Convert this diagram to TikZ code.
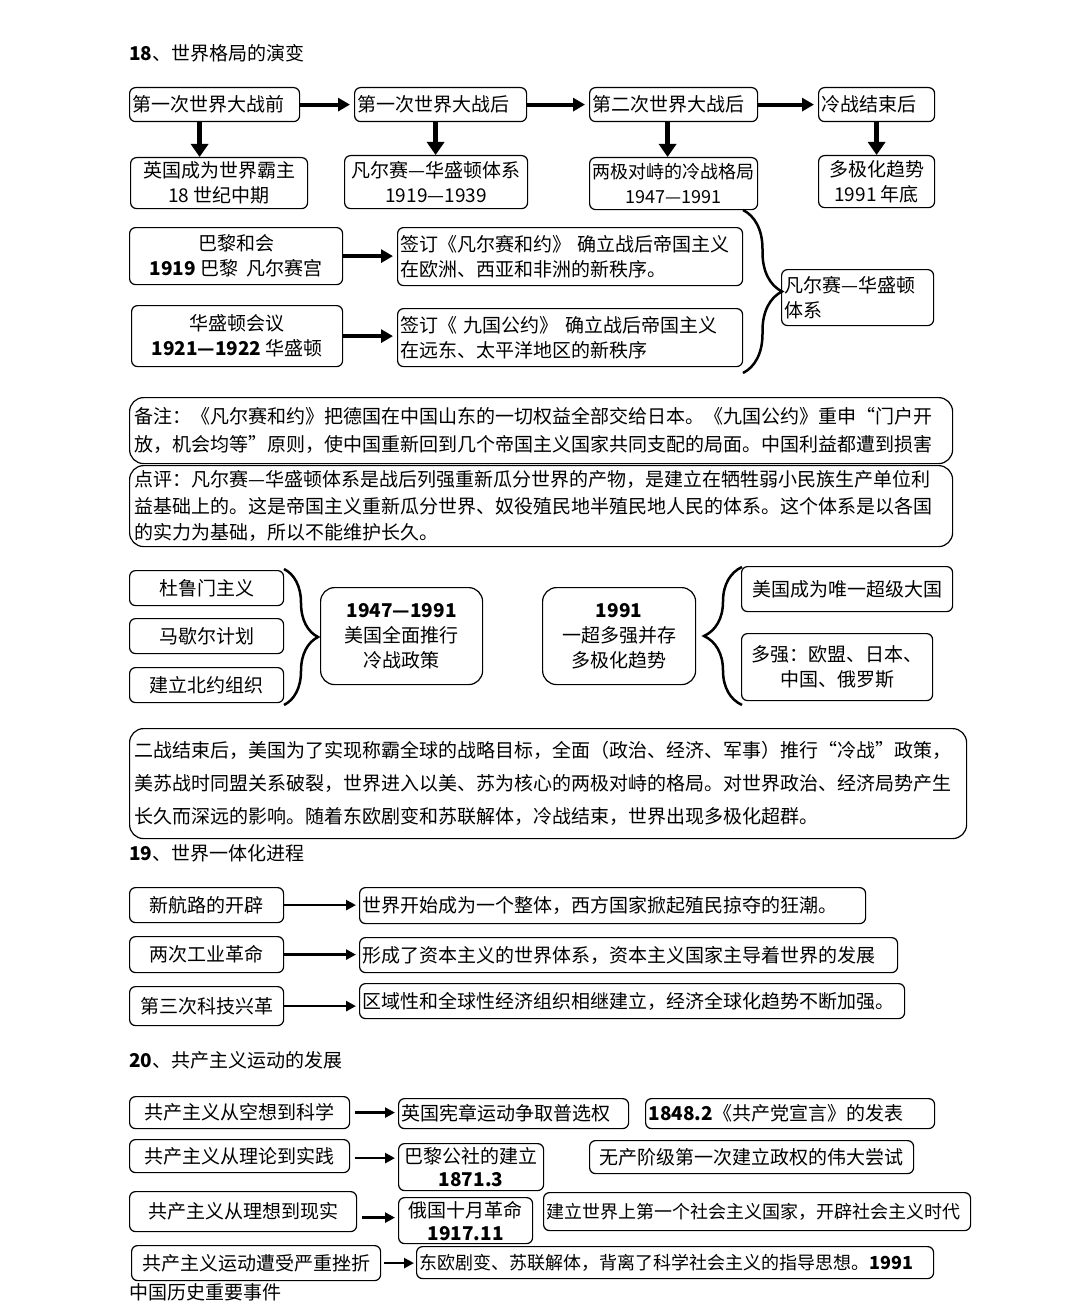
\documentclass[tikz,border=0pt]{standalone}
\usepackage{fontspec}
\setmainfont{Noto Sans CJK SC}
\usetikzlibrary{arrows.meta, decorations.pathreplacing}
\tikzset{
  stage/.style={draw, line width=1.2pt, rounded corners=6pt, fill=white,
                inner xsep=3pt, inner ysep=0pt, anchor=north west,
                align=center, font=\fontsize{19}{25}\selectfont},
  lstage/.style={stage, align=left},
  note/.style={lstage, rounded corners=14pt, inner xsep=5pt},
  wh/.style 2 args={minimum width=#1, minimum height=#2},
  head/.style={anchor=west, inner sep=0pt, font=\fontsize{19}{23}\selectfont},
  bigflow/.style={-{Triangle[length=12pt,width=13pt]}, line width=4pt},
  downflow/.style={-{Triangle[length=13pt,width=17pt]}, line width=5.5pt},
  flow/.style={-{Triangle[length=10pt,width=10pt]}, line width=2.6pt},
  curly/.style={decorate, decoration={brace, amplitude=#1}, line width=2.5pt},
}
\begin{document}
\begin{tikzpicture}[x=1pt, y=-1pt]
  \fill[white] (0,0) rectangle (1080,1316);
  \useasboundingbox (0,0) rectangle (1080,1316);

  % 18
  \node (h18) [head] at (129,53) {\textbf{18}、世界格局的演变};
  \node (a1) [lstage, text width=164pt, minimum height=34] at (129,87) {第一次世界大战前};
  \node (a2) [lstage, text width=166pt, minimum height=34] at (354,87) {第一次世界大战后};
  \node (a3) [lstage, text width=162pt, minimum height=34] at (589,87) {第二次世界大战后};
  \node (a4) [lstage, text width=110pt, minimum height=34] at (818,87) {冷战结束后};
  \node (b1) [stage, wh={177}{51}] at (130,157) {英国成为世界霸主\\18 世纪中期};
  \node (b2) [stage, wh={183}{53}] at (344,155) {凡尔赛—华盛顿体系\\1919—1939};
  \node (b3) [stage, wh={168}{52}, font=\fontsize{18}{25}\selectfont] at (589,157) {两极对峙的冷战格局\\1947—1991};
  \node (b4) [stage, wh={116}{52}] at (818,155) {多极化趋势\\1991 年底};
  \draw[bigflow, shorten >=4pt] (a1) -- (a2);
  \draw[bigflow, shorten >=4pt] (a2) -- (a3);
  \draw[bigflow, shorten >=4pt] (a3) -- (a4);
  \draw[downflow] ([xshift=-15pt]a1.south) -- ([xshift=-15pt]a1.south |- b1.north);
  \draw[downflow] ([xshift=-5pt]a2.south) -- ([xshift=-5pt]a2.south |- b2.north);
  \draw[downflow] ([xshift=-6pt]a3.south) -- ([xshift=-6pt]a3.south |- b3.north);
  \draw[downflow] (a4.south) -- (a4.south |- b4.north);

  \node (c1) [stage, wh={213}{57}] at (129,227) {巴黎和会\\\textbf{1919} 巴黎\ \ 凡尔赛宫};
  \node (c2) [lstage, text width=339pt, minimum height=58] at (397,227) {签订《凡尔赛和约》 确立战后帝国主义\\在欧洲、西亚和非洲的新秩序。};
  \node (d1) [stage, wh={211}{61}] at (131,305) {华盛顿会议\\\textbf{1921—1922} 华盛顿};
  \node (d2) [lstage, text width=339pt, minimum height=58] at (397,308) {签订《 九国公约》 确立战后帝国主义\\在远东、太平洋地区的新秩序};
  \node (vw) [lstage, text width=146pt, minimum height=56] at (781,269) {凡尔赛—华盛顿\\体系};
  \draw[bigflow, shorten >=4pt] (c1.east) -- (c1.east -| c2.west);
  \draw[bigflow, shorten >=4pt] (d1.east) -- (d1.east -| d2.west);
  \coordinate (vtop) at (743,210);
  \coordinate (vbot) at (743,373);
  \draw[curly=39pt] (vtop) -- (vbot);

  \node (n1) [note, text width=813pt, minimum height=66, font=\fontsize{19}{28}\selectfont] at (129,397) {备注：《凡尔赛和约》把德国在中国山东的一切权益全部交给日本。《九国公约》重申“门户开\\放，机会均等”原则，使中国重新回到几个帝国主义国家共同支配的局面。中国利益都遭到损害};
  \node (n2) [note, text width=813pt, minimum height=81, font=\fontsize{19}{26.5}\selectfont] at (129,465) {点评：凡尔赛—华盛顿体系是战后列强重新瓜分世界的产物，是建立在牺牲弱小民族生产单位利\\益基础上的。这是帝国主义重新瓜分世界、奴役殖民地半殖民地人民的体系。这个体系是以各国\\的实力为基础，所以不能维护长久。};

  % cold war
  \node (e1) [stage, wh={154}{35}] at (129,570) {杜鲁门主义};
  \node (e2) [stage, wh={154}{35}] at (129,618) {马歇尔计划};
  \node (e3) [stage, wh={154}{35}] at (129,667) {建立北约组织};
  \coordinate (etop) at (284,569);
  \coordinate (ebot) at (284,705);
  \draw[curly=34pt] (etop) -- (ebot);
  \node (f) [stage, wh={162}{97}, rounded corners=14pt] at (320,587) {\textbf{1947—1991}\\美国全面推行\\冷战政策};
  \node (g) [stage, wh={153}{97}, rounded corners=14pt] at (542,587) {\textbf{1991}\\一超多强并存\\多极化趋势};
  \coordinate (htop) at (742,567);
  \coordinate (hbot) at (742,705);
  \draw[curly=38pt] (hbot) -- (htop);
  \node (h1) [stage, wh={211}{45}] at (741,566) {美国成为唯一超级大国};
  \node (h2) [stage, wh={191}{67}] at (741,633) {多强：欧盟、日本、\\中国、俄罗斯};

  \node (n3) [note, text width=827pt, minimum height=110, font=\fontsize{19}{33}\selectfont] at (129,728) {二战结束后，美国为了实现称霸全球的战略目标，全面（政治、经济、军事）推行“冷战”政策，\\美苏战时同盟关系破裂，世界进入以美、苏为核心的两极对峙的格局。对世界政治、经济局势产生\\长久而深远的影响。随着东欧剧变和苏联解体，冷战结束，世界出现多极化超群。};

  % 19
  \node (h19) [head] at (129,853) {\textbf{19}、世界一体化进程};
  \node (i1) [stage, wh={154}{35}] at (129,887) {新航路的开辟};
  \node (i2) [stage, wh={154}{36}] at (129,936) {两次工业革命};
  \node (i3) [stage, wh={154}{39}] at (129,986) {第三次科技兴革};
  \node (j1) [lstage, text width=500pt, minimum height=36] at (359,887) {世界开始成为一个整体，西方国家掀起殖民掠夺的狂潮。};
  \node (j2) [lstage, text width=532pt, minimum height=35] at (359,937) {形成了资本主义的世界体系，资本主义国家主导着世界的发展};
  \node (j3) [lstage, text width=539pt, minimum height=35] at (359,983) {区域性和全球性经济组织相继建立，经济全球化趋势不断加强。};
  \draw[flow, shorten >=3pt] (i1.east) -- (i1.east -| j1.west);
  \draw[flow, shorten >=3pt] (i2.east) -- (i2.east -| j2.west);
  \draw[flow, shorten >=3pt] (i3.east) -- (i3.east -| j3.west);

  % 20
  \node (h20) [head] at (129,1060) {\textbf{20}、共产主义运动的发展};
  \node (k1) [stage, wh={220}{32}] at (129,1096) {共产主义从空想到科学};
  \node (k2) [stage, wh={220}{33}] at (129,1139) {共产主义从理论到实践};
  \node (k3) [stage, wh={227}{40}] at (129,1191) {共产主义从理想到现实};
  \node (k4) [stage, wh={249}{35}] at (131,1245) {共产主义运动遭受严重挫折};
  \node (l1) [lstage, text width=224pt, minimum height=30] at (398,1098) {英国宪章运动争取普选权};
  \node (l2) [stage, wh={145}{47}, font=\fontsize{19}{23}\selectfont] at (398,1143) {巴黎公社的建立\\\textbf{1871.3}};
  \node (l3) [stage, wh={134}{46}, font=\fontsize{19}{23}\selectfont] at (398,1197) {俄国十月革命\\\textbf{1917.11}};
  \node (l4) [lstage, text width=511pt, minimum height=32, font=\fontsize{18}{23}\selectfont] at (416,1246) {东欧剧变、苏联解体，背离了科学社会主义的指导思想。\textbf{1991}};
  \node (m1) [lstage, text width=283pt, minimum height=30] at (645,1098) {\textbf{1848.2}《共产党宣言》的发表};
  \node (m2) [stage, wh={324}{33}] at (589,1140) {无产阶级第一次建立政权的伟大尝试};
  \node (m3) [lstage, text width=421pt, minimum height=38, font=\fontsize{18}{23}\selectfont] at (543,1192) {建立世界上第一个社会主义国家，开辟社会主义时代};
  \draw[flow, shorten <=5pt, shorten >=3pt] (k1.east) -- (k1.east -| l1.west);
  \draw[flow, shorten <=5pt, shorten >=3pt] ([yshift=-2pt]k2.east) -- ([yshift=-2pt]k2.east -| l2.west);
  \draw[flow, shorten <=5pt, shorten >=3pt] ([yshift=-6pt]k3.east) -- ([yshift=-6pt]k3.east -| l3.west);
  \draw[flow, shorten <=3pt, shorten >=2pt] (k4.east) -- (k4.east -| l4.west);
  \node (foot) [head] at (129,1292) {中国历史重要事件};
\end{tikzpicture}
\end{document}
